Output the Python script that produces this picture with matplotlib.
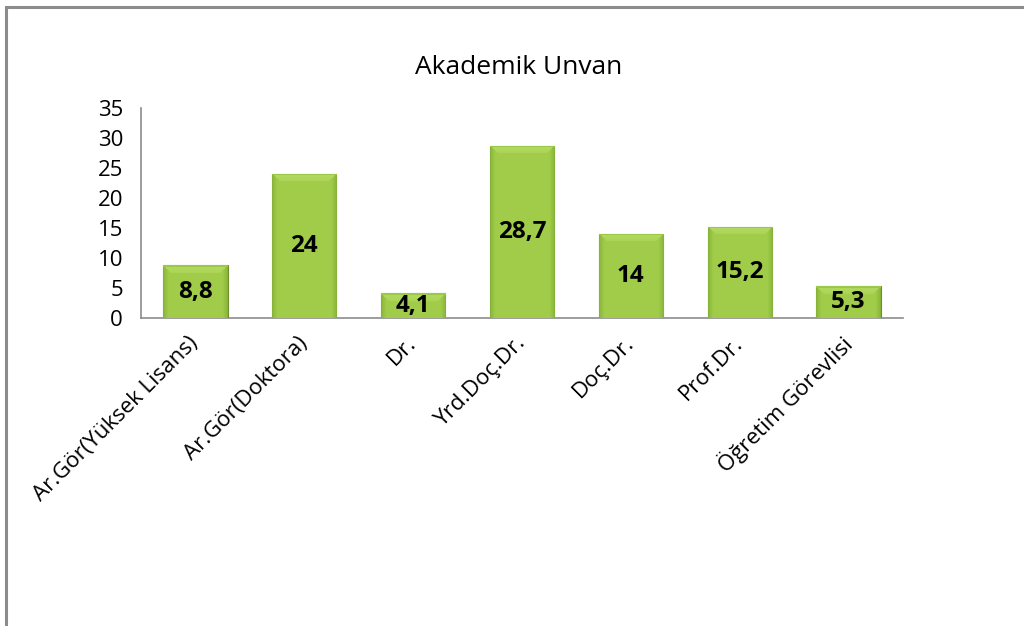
import matplotlib
matplotlib.use('Agg')
import matplotlib.pyplot as plt
import numpy as np
from matplotlib.patches import Rectangle
from matplotlib.colors import LinearSegmentedColormap

# ------------------------
# Data
# ------------------------
categories = ['Ar.Gör(Yüksek Lisans)', 'Ar.Gör(Doktora)', 'Dr.', 'Yrd.Doç.Dr.',
              'Doç.Dr.', 'Prof.Dr.', 'Öğretim Görevlisi']
values = [8.8, 24, 4.1, 28.7, 14, 15.2, 5.3]
value_labels = ['8,8', '24', '4,1', '28,7', '14', '15,2', '5,3']

x = np.arange(len(categories))
width = 0.59

plt.rcParams['font.family'] = ['Open Sans', 'DejaVu Sans']

fig = plt.figure(figsize=(10.24, 6.26), dpi=100)
fig.patch.set_facecolor('white')

# outer chart frame (cut off at right and bottom like the reference)
frame = Rectangle((6 / 1024, -0.1), 1.2, 1 - 7 / 626 + 0.1, transform=fig.transFigure,
                  fill=False, edgecolor='#8c8c8c', linewidth=2.2)
fig.patches.append(frame)

ax = fig.add_axes([141 / 1024, 1 - 318 / 626, (903 - 141) / 1024, (318 - 108) / 626])
ax.set_facecolor('white')

# ------------------------
# Bars (flat base + bevel shading image clipped to each bar)
# ------------------------
bars = ax.bar(x, values, width, color='#9cc846', edgecolor='#6f8f2c',
              linewidth=0.8, zorder=3)

cmap = LinearSegmentedColormap.from_list('bevel', ['#6a8a28', '#8fbb3e', '#a0cc4a', '#b6dc64'])
px_per_unit = (318 - 108) / 35.0
bar_px = width * (903 - 141) / len(categories)
for bar in bars:
    bx, bw, bh = bar.get_x(), bar.get_width(), bar.get_height()
    hpx = bh * px_per_unit
    nx, ny = 80, max(int(hpx), 10)
    xs = np.linspace(0, bar_px, nx)[None, :]
    ys = np.linspace(0, hpx, ny)[:, None]
    side = np.minimum(xs, bar_px - xs)
    dtop = hpx - ys
    img = 0.55 + 0.45 * np.clip(side / 5.0, 0, 1) - 0.45 + 0.0 * ys
    img = np.clip(img, 0.0, 0.7)
    img = 0.25 + np.clip(side / 5.0, 0, 1) * 0.42 + 0.0 * ys
    bevel = (dtop < 8) & (side > dtop)
    img = np.where(bevel, 0.98 - dtop * 0.02, img)
    img = np.where(dtop < 1.2, 0.6, img)
    im = ax.imshow(img, cmap=cmap, vmin=0, vmax=1, origin='lower', aspect='auto',
                   extent=(bx, bx + bw, 0, bh), zorder=3.5, interpolation='bilinear')
    im.set_clip_path(bar)

for bar, lab in zip(bars, value_labels):
    ax.text(bar.get_x() + bar.get_width() / 2, bar.get_height() / 2, lab,
            ha='center', va='center', fontsize=17.5, fontweight='bold', color='black',
            zorder=5)

# ------------------------
# Axes settings
# ------------------------
ax.set_xlim(-0.5, len(categories) - 0.5)
ax.set_ylim(0, 35)
ax.set_yticks(np.arange(0, 36, 5))
ax.set_xticks(x)
ax.set_xticklabels(categories, rotation=45, ha='right', va='center',
                   rotation_mode='anchor')
ax.tick_params(axis='both', length=0, labelsize=16)
ax.tick_params(axis='y', pad=13)
ax.tick_params(axis='x', pad=16)

for side_name in ['top', 'right']:
    ax.spines[side_name].set_visible(False)
for side_name in ['left', 'bottom']:
    ax.spines[side_name].set_color('#8c8c8c')
    ax.spines[side_name].set_linewidth(1.2)

fig.text(519 / 1024, 1 - 68 / 626, 'Akademik Unvan', ha='center', va='center',
         fontsize=19)

plt.savefig('out.png', dpi=100)
